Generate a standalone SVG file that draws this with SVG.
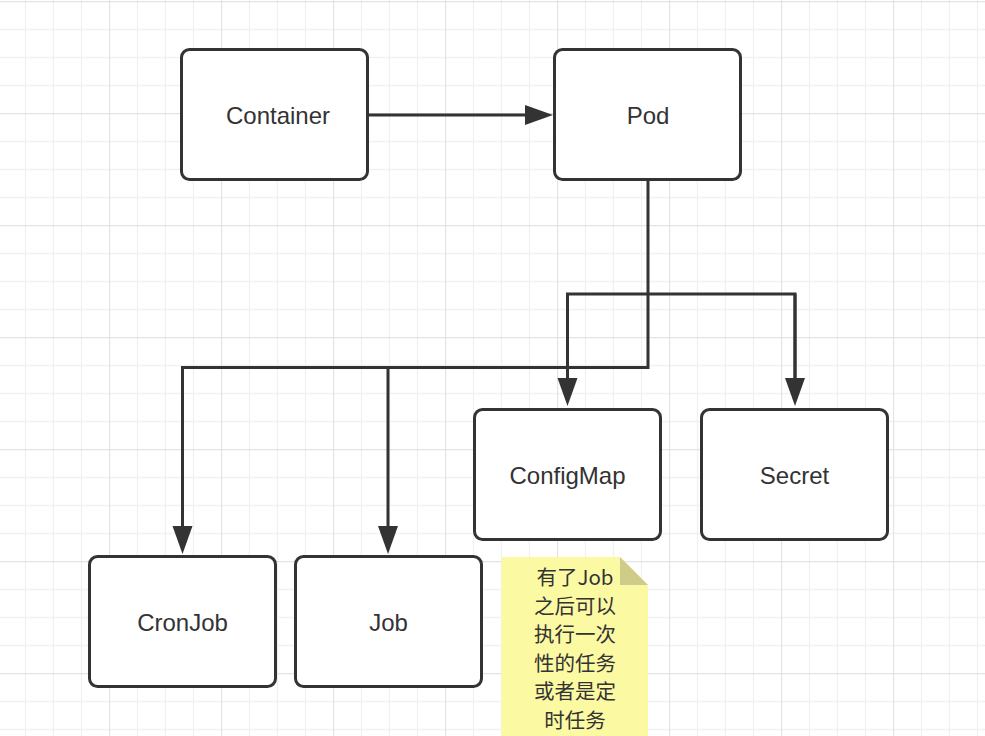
<svg xmlns="http://www.w3.org/2000/svg" width="985" height="736" viewBox="0 0 985 736">
<defs>
<pattern id="grid" patternUnits="userSpaceOnUse" x="-3" y="1" width="112" height="112">
<path d="M28.5,0V112M56.5,0V112M84.5,0V112M0,28.5H112M0,56.5H112M0,84.5H112" stroke="#f1f1f1" stroke-width="1.3" fill="none"/>
<path d="M0.5,0V112M0,0.5H112" stroke="#e3e3e3" stroke-width="1.3" fill="none"/>
</pattern>
<marker id="arr" markerUnits="userSpaceOnUse" markerWidth="30" markerHeight="22" refX="8" refY="10" orient="auto">
<path d="M0,0 L28,10 L0,20 Z" fill="#333"/>
</marker>
</defs>
<style>
.box{fill:#fff;stroke:#333;stroke-width:3}
.lbl{font-family:"Liberation Sans",Arial,sans-serif;font-size:24px;fill:#333;text-anchor:middle}
.conn{fill:none;stroke:#333;stroke-width:3}
.note{font-family:"Noto Sans CJK SC","Liberation Sans",sans-serif;font-size:20.5px;fill:#333;text-anchor:middle}
</style>
<rect width="985" height="736" fill="#fff"/>
<rect width="985" height="736" fill="url(#grid)"/>
<g id="connectors">
<path class="conn" d="M368,115 H533" marker-end="url(#arr)"/>
<path class="conn" d="M648,180 V367.5 H182.5 V534" marker-end="url(#arr)"/>
<path class="conn" d="M388,367.5 V534" marker-end="url(#arr)"/>
<path class="conn" d="M567.5,386 V294 H795 V386"/>
<path class="conn" d="M567.5,294 V386" marker-end="url(#arr)"/>
<path class="conn" d="M795,294 V386" marker-end="url(#arr)"/>
</g>
<g id="node-container">
<rect class="box" x="181.5" y="49.5" width="186" height="130" rx="8"/>
<text class="lbl" x="278" y="123.5">Container</text>
</g>
<g id="node-pod">
<rect class="box" x="554.5" y="49.5" width="186" height="130" rx="8"/>
<text class="lbl" x="648" y="123.5">Pod</text>
</g>
<g id="node-configmap">
<rect class="box" x="474.5" y="409.5" width="186" height="130" rx="8"/>
<text class="lbl" x="567.5" y="483.5">ConfigMap</text>
</g>
<g id="node-secret">
<rect class="box" x="701.5" y="409.5" width="186" height="130" rx="8"/>
<text class="lbl" x="794.5" y="483.5">Secret</text>
</g>
<g id="node-cronjob">
<rect class="box" x="89.5" y="556.5" width="186" height="130" rx="8"/>
<text class="lbl" x="182.5" y="630.5">CronJob</text>
</g>
<g id="node-job">
<rect class="box" x="295.5" y="556.5" width="186" height="130" rx="8"/>
<text class="lbl" x="388.5" y="630.5">Job</text>
</g>
<g id="note">
<path d="M501.5,557 H620 L648,585 V740 H501.5 Z" fill="#fcf9a3"/>
<path d="M620,557 L648,585 H620 Z" fill="#cfcc8a"/>
<text class="note" x="575" y="585">有了Job</text>
<text class="note" x="575" y="613.5">之后可以</text>
<text class="note" x="575" y="642">执行一次</text>
<text class="note" x="575" y="670.5">性的任务</text>
<text class="note" x="575" y="699">或者是定</text>
<text class="note" x="575" y="727.5">时任务</text>
</g>
</svg>
